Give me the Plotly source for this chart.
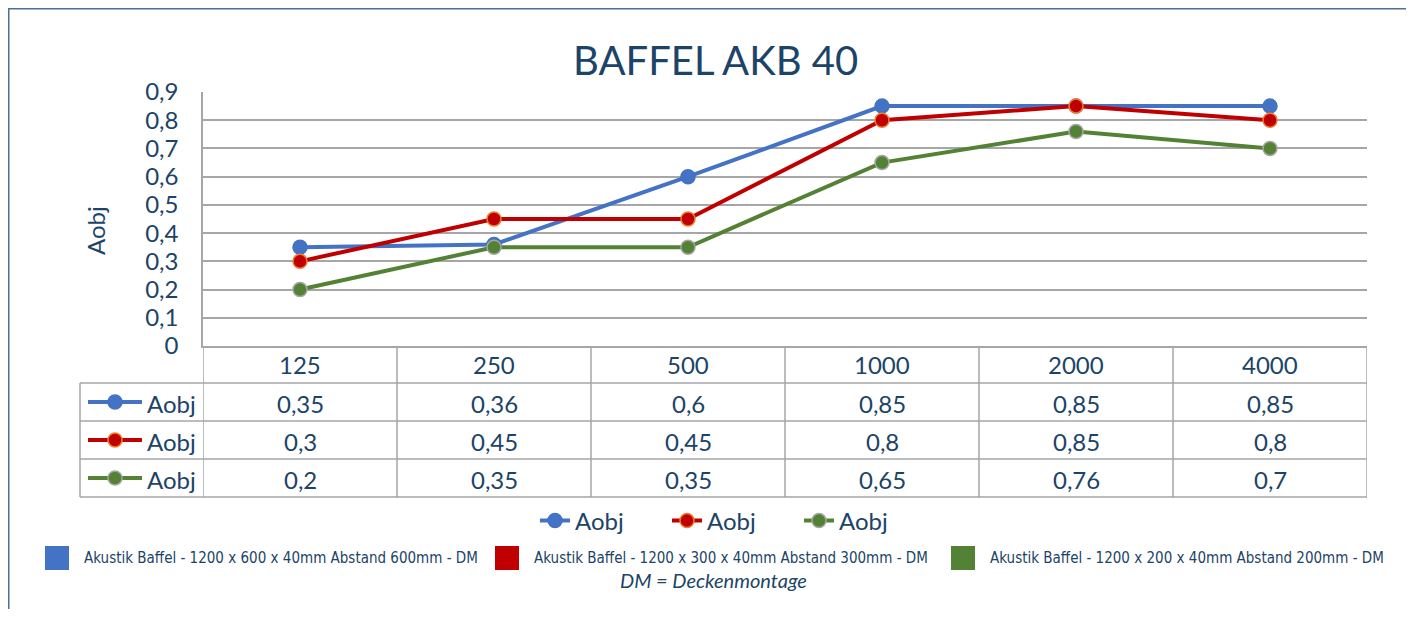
import plotly.graph_objects as go

# ---- data ----
categories = ["125", "250", "500", "1000", "2000", "4000"]
series_names = ["Aobj", "Aobj", "Aobj"]
s1 = [0.35, 0.36, 0.6, 0.85, 0.85, 0.85]
s2 = [0.3, 0.45, 0.45, 0.8, 0.85, 0.8]
s3 = [0.2, 0.35, 0.35, 0.65, 0.76, 0.7]
descriptions = [
    "Akustik Baffel - 1200 x 600 x 40mm Abstand 600mm - DM",
    "Akustik Baffel - 1200 x 300 x 40mm Abstand 300mm - DM",
    "Akustik Baffel - 1200 x 200 x 40mm Abstand 200mm - DM",
]
footnote = "DM = Deckenmontage"
title_text = "BAFFEL AKB 40"
y_title = "Aobj"

# ---- style ----
OFF = 8  # page body margin
W, H = 1414 - 2 * OFF, 617 - 2 * OFF
line_colors = ["#4472C4", "#C00000", "#548235"]
marker_outline = ["#4472C4", "#ED7D31", "#A5A5A5"]
TXT = "#1B4468"
GRID = "#A6A6A6"
FONT = "Lato, Open Sans, sans-serif"
NARROW = "Liberation Sans Narrow, DejaVu Sans Condensed, sans-serif"


def px(x):
    return (x - OFF) / W


def py(y):
    return 1 - (y - OFF) / H


def ann(x, y, text, size, xref="paper", xanchor="center", family=FONT, **kw):
    return dict(x=x, xref=xref, y=py(y), yref="paper", text=text,
                showarrow=False, xanchor=xanchor, yanchor="middle",
                font=dict(size=size, color=TXT, family=family), **kw)


series = [s1, s2, s3]
fig = go.Figure()
for i, vals in enumerate(series):
    fig.add_trace(go.Scatter(
        x=categories, y=vals, name=series_names[i], mode="lines+markers",
        line=dict(color=line_colors[i], width=4),
        marker=dict(size=14, color=line_colors[i],
                    line=dict(color=marker_outline[i], width=1.5)),
    ))

shapes = []
annotations = []

# frame
shapes.append(dict(type="rect", xref="paper", yref="paper",
                   x0=px(8.75), x1=px(1440), y0=py(660), y1=py(8.75),
                   line=dict(color="#4F7090", width=1.5), layer="below"))

# table grid
row_lines = [383, 421, 459, 497]
for yv in row_lines:
    shapes.append(dict(type="line", xref="paper", yref="paper",
                       x0=px(80), x1=px(1367), y0=py(yv), y1=py(yv),
                       line=dict(color=GRID, width=1.5)))
for k in range(len(categories) + 1):
    shapes.append(dict(type="line", xref="x", yref="paper",
                       x0=k - 0.5, x1=k - 0.5, y0=py(346), y1=py(497),
                       line=dict(color=GRID, width=1.5)))
shapes.append(dict(type="line", xref="paper", yref="paper",
                   x0=px(80), x1=px(80), y0=py(383), y1=py(497),
                   line=dict(color=GRID, width=1.5)))

# header labels
for k, c in enumerate(categories):
    annotations.append(ann(k, 364, c, 24, xref="x"))

row_centers = [402, 440, 478]
for i, vals in enumerate(series):
    yc = row_centers[i]
    for k, v in enumerate(vals):
        annotations.append(ann(k, yc + 1, str(v).replace(".", ","), 24, xref="x"))
    # key
    shapes.append(dict(type="line", xref="paper", yref="paper",
                       x0=px(88), x1=px(142), y0=py(yc), y1=py(yc),
                       line=dict(color=line_colors[i], width=4)))
    shapes.append(dict(type="circle", xref="paper", yref="paper",
                       x0=px(108), x1=px(122), y0=py(yc + 7), y1=py(yc - 7),
                       fillcolor=line_colors[i],
                       line=dict(color=marker_outline[i], width=1.5)))
    annotations.append(ann(px(145), yc + 1, series_names[i], 24, xanchor="left"))

# bottom description legend
sq_x = [45, 495, 951]
tx_x = [82, 532, 988]
for i, d in enumerate(descriptions):
    shapes.append(dict(type="rect", xref="paper", yref="paper",
                       x0=px(sq_x[i]), x1=px(sq_x[i] + 24), y0=py(570), y1=py(546),
                       fillcolor=line_colors[i], line=dict(width=0)))
    annotations.append(ann(px(tx_x[i]), 558, d, 15, xanchor="left", family=NARROW))
annotations.append(ann(px(713), 580, "<i>" + footnote + "</i>", 20))

# title & y-axis title
annotations.append(ann(px(715), 60, title_text, 40))
annotations.append(ann(px(95), 231, y_title, 24, textangle=-90))

fig.update_layout(
    width=W, height=H, margin=dict(l=0, r=0, t=0, b=0, autoexpand=False),
    paper_bgcolor="white", plot_bgcolor="white",
    separators=",.",
    showlegend=True,
    legend=dict(orientation="h", x=px(733), xanchor="center", y=py(521),
                yanchor="middle", font=dict(size=24, color=TXT, family=FONT),
                entrywidth=87, bgcolor="rgba(0,0,0,0)"),
    xaxis=dict(domain=[px(203), px(1367)], range=[-0.5, 5.5], type="category",
               showticklabels=False, showgrid=False, zeroline=False,
               automargin=False,
               showline=True, linecolor=GRID, linewidth=1.5, fixedrange=True),
    yaxis=dict(domain=[py(346), py(92)], range=[0, 0.9], dtick=0.1, tick0=0,
               showgrid=True, gridcolor=GRID, gridwidth=1.5, zeroline=False,
               automargin=False,
               showline=True, linecolor=GRID, linewidth=1.5,
               ticklabelstandoff=18,
               tickfont=dict(size=24, color=TXT, family=FONT)),
    shapes=shapes, annotations=annotations,
)

fig.write_html("out.html")
